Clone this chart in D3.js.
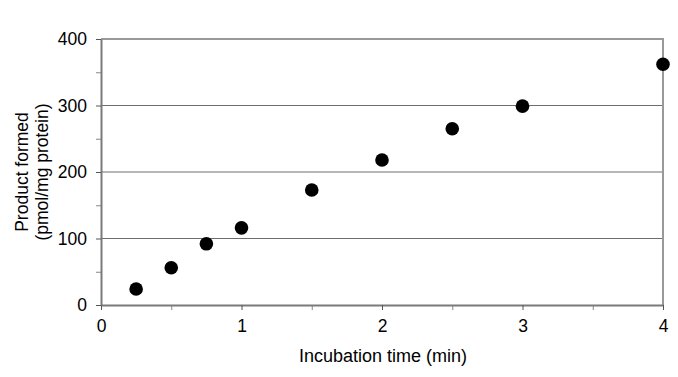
<!DOCTYPE html>
<html lang="en">
<head>
    <meta charset="UTF-8">
    <title>Product formed vs incubation time</title>
    <script src="https://d3js.org/d3.v7.min.js"></script>
    <style>
        body {
            margin: 0;
            background: #fff;
            font-family: "Liberation Sans", Arial, sans-serif;
        }
        .tick text {
            font-family: "Liberation Sans", Arial, sans-serif;
            font-size: 17.5px;
            fill: #000;
        }
        .title {
            font-size: 17.5px;
            fill: #000;
        }
    </style>
</head>
<body>
    <div id="chart"></div>
    <script>
        // data
        var times = [0.25, 0.5, 0.75, 1, 1.5, 2, 2.5, 3, 4];
        var product = [24, 56, 92, 116, 173, 218, 265, 299, 362];
        var xTicks = [0, 1, 2, 3, 4];
        var xMinor = [0.5, 1.5, 2.5, 3.5];
        var yTicks = [0, 100, 200, 300, 400];
        var yMinor = [50, 150, 250, 350];

        var W = 678, H = 377;
        var margin = {top: 39, right: 15, bottom: 72, left: 101};

        var svg = d3.select("#chart").append("svg")
            .attr("width", W)
            .attr("height", H);

        var x = d3.scaleLinear().domain([0, 4]).range([margin.left, W - margin.right]);
        var y = d3.scaleLinear().domain([0, 400]).range([H - margin.bottom, margin.top]);

        // gridlines
        svg.append("g")
            .selectAll("line")
            .data(yTicks.slice(1, 4))
            .enter().append("line")
            .attr("x1", x(0))
            .attr("x2", x(4))
            .attr("y1", function(d) { return y(d); })
            .attr("y2", function(d) { return y(d); })
            .attr("stroke", "#6e6e6e")
            .attr("stroke-width", 1);

        // top and right border
        svg.append("path")
            .attr("d", "M" + x(0) + "," + y(400) + "H" + x(4) + "V" + y(0))
            .attr("fill", "none")
            .attr("stroke", "#999")
            .attr("stroke-width", 2);

        // minor ticks
        svg.append("g")
            .attr("transform", "translate(0," + y(0) + ")")
            .call(d3.axisBottom(x).tickValues(xMinor).tickSize(5).tickSizeOuter(0).tickFormat(""))
            .call(function(g) { g.select(".domain").remove(); g.selectAll("line").attr("stroke", "#888"); });
        svg.append("g")
            .attr("transform", "translate(" + x(0) + ",0)")
            .call(d3.axisLeft(y).tickValues(yMinor).tickSize(5).tickSizeOuter(0).tickFormat(""))
            .call(function(g) { g.select(".domain").remove(); g.selectAll("line").attr("stroke", "#888"); });

        // x axis
        svg.append("g")
            .attr("transform", "translate(0," + y(0) + ")")
            .call(d3.axisBottom(x).tickValues(xTicks).tickSize(5).tickSizeOuter(0).tickPadding(10).tickFormat(d3.format("d")))
            .call(function(g) {
                g.select(".domain").attr("stroke", "#7a7a7a").attr("stroke-width", 2);
                g.selectAll("line").attr("stroke", "#555");
            });

        // y axis
        svg.append("g")
            .attr("transform", "translate(" + x(0) + ",0)")
            .call(d3.axisLeft(y).tickValues(yTicks).tickSize(5).tickSizeOuter(0).tickPadding(9).tickFormat(d3.format("d")))
            .call(function(g) {
                g.select(".domain").attr("stroke", "#7a7a7a").attr("stroke-width", 2);
                g.selectAll("line").attr("stroke", "#555");
            });

        // points
        svg.append("g")
            .selectAll("circle")
            .data(times)
            .enter().append("circle")
            .attr("cx", function(d) { return x(d); })
            .attr("cy", function(d, i) { return y(product[i]); })
            .attr("r", 6.8)
            .attr("fill", "#000");

        // axis titles
        svg.append("text")
            .attr("class", "title")
            .attr("x", (x(0) + x(4)) / 2 + 1)
            .attr("y", 362)
            .attr("text-anchor", "middle")
            .style("font-size", "18px")
            .text("Incubation time (min)");

        var yt = svg.append("text")
            .attr("class", "title")
            .attr("transform", "translate(0," + ((y(0) + y(400)) / 2) + ") rotate(-90)")
            .attr("text-anchor", "middle");
        yt.append("tspan").attr("x", 0).attr("y", 28).text("Product formed");
        yt.append("tspan").attr("x", 0).attr("y", 48).text("(pmol/mg protein)");
    </script>
</body>
</html>
